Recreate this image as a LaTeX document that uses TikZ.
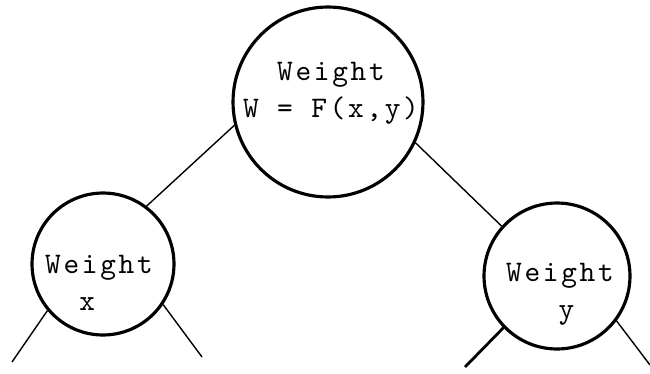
\documentclass[tikz,border=0pt]{standalone}
\usepackage{fontspec}
\setmonofont{lmmono10-regular.otf}[LetterSpace=9]
\begin{document}
\begin{tikzpicture}[x=0.02cm, y=-0.02cm,
    weight/.style={draw, circle, line width=1.8pt, inner sep=0pt},
    wtext/.style={font=\ttfamily\fontsize{17}{21}\selectfont, inner sep=0pt},
    branch/.style={line width=0.8pt}]
  \useasboundingbox (0,0) rectangle (650,373);
  % the three weight circles
  \node[weight, minimum size=3.8cm] (wf) at (328,102) {};
  \node[weight, minimum size=2.84cm] (wx) at (103,264) {};
  \node[weight, minimum size=2.92cm] (wy) at (557,276) {};
  \node[wtext, align=center] (tf) at (331,93) {Weight\\W = F(x,y)};
  \node[wtext, align=left] (tx) at (99,283) {Weight\\\phantom{We}x};
  \node[wtext, align=left] (ty) at (560,294) {Weight\\\phantom{Wei}y};
  % free ends of the lower branches
  \coordinate (xl) at (12,362);
  \coordinate (xr) at (202,357);
  \coordinate (yl) at (465,367);
  \coordinate (yr) at (650,365);
  \draw[branch] (wx.53) -- (wf.194);
  \draw[branch] (wf.335) -- (wy.138);
  \draw[branch] (wx.220) -- (xl);
  \draw[branch] (wx.326) -- (xr);
  \draw[branch, line width=1.6pt] (wy.224) -- (yl);
  \draw[branch] (wy.323) -- (yr);
\end{tikzpicture}
\end{document}
